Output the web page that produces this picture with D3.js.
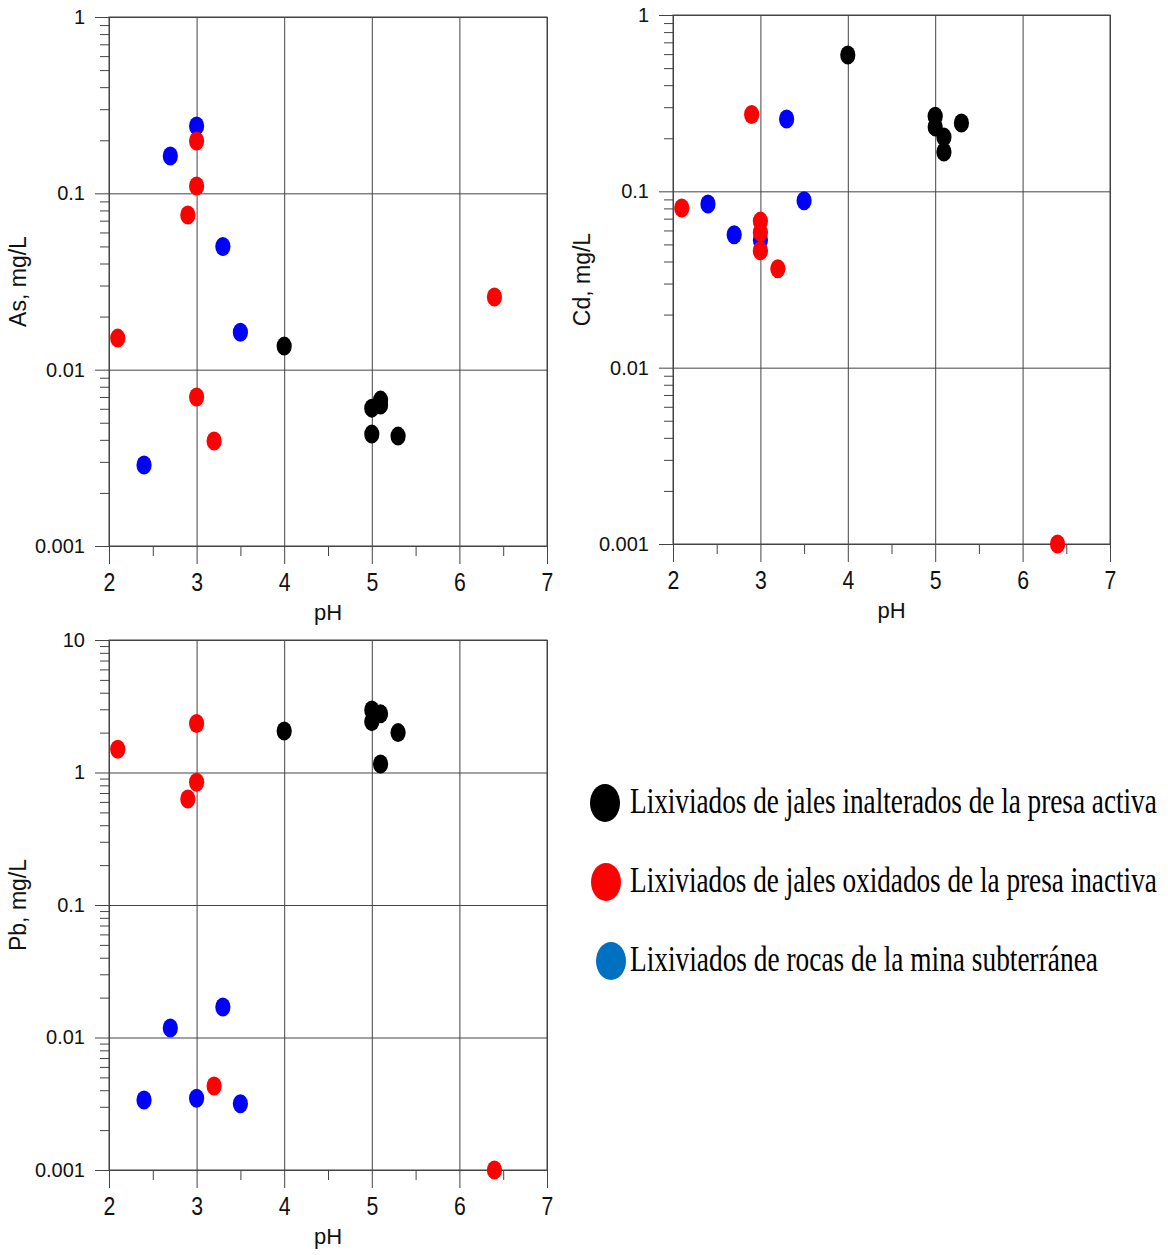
<!DOCTYPE html>
<html>
<head>
<meta charset="utf-8">
<script src="https://cdn.jsdelivr.net/npm/d3@7"></script>
<style>
  body { margin: 0; background: #fff; }
  svg { display: block; font-family: "Liberation Sans", Arial, sans-serif; }
</style>
</head>
<body>
<svg id="chart" width="1168" height="1255"></svg>
<script>
// series names / colours
const seriesNames = [
  "Lixiviados de jales inalterados de la presa activa",
  "Lixiviados de jales oxidados de la presa inactiva",
  "Lixiviados de rocas de la mina subterránea"
];
const pointColors = ["#000000", "#ff0000", "#0000ff"];
const legendColors = ["#000000", "#ff0000", "#0070c0"];

const phTicks = [2, 3, 4, 5, 6, 7];

// As
const asActivaPH = [4.0, 5.0, 5.1, 5.1, 5.0, 5.3];
const asActivaVal = [0.0136, 0.00605, 0.00672, 0.0063, 0.00431, 0.0042];
const asInactivaPH = [3.0, 3.0, 2.9, 2.1, 6.4, 3.0, 3.2];
const asInactivaVal = [0.198, 0.110, 0.0753, 0.0151, 0.0258, 0.0070, 0.00394];
const asRocasPH = [2.7, 3.0, 3.3, 3.5, 2.4];
const asRocasVal = [0.163, 0.241, 0.050, 0.0163, 0.00288];

// Cd
const cdActivaPH = [4.0, 5.0, 5.0, 5.1, 5.1, 5.3];
const cdActivaVal = [0.593, 0.267, 0.232, 0.203, 0.167, 0.244];
const cdInactivaPH = [2.9, 2.1, 3.0, 3.0, 3.0, 3.2, 6.4];
const cdInactivaVal = [0.273, 0.0804, 0.0678, 0.0585, 0.046, 0.0364, 0.001];
const cdRocasPH = [3.3, 2.4, 2.7, 3.0, 3.5];
const cdRocasVal = [0.257, 0.0847, 0.0567, 0.053, 0.0885];

// Pb
const pbActivaPH = [4.0, 5.0, 5.1, 5.0, 5.3, 5.1];
const pbActivaVal = [2.06, 2.96, 2.77, 2.42, 2.0, 1.16];
const pbInactivaPH = [2.1, 3.0, 3.0, 2.9, 3.2, 6.4];
const pbInactivaVal = [1.50, 2.34, 0.843, 0.631, 0.0043, 0.001];
const pbRocasPH = [2.4, 2.7, 3.3, 3.0, 3.5];
const pbRocasVal = [0.00337, 0.0118, 0.0170, 0.00348, 0.00316];

const svg = d3.select("#chart");

function zip(ph, val) {
  return ph.map((p, i) => [p, val[i]]);
}

function drawPanel(p) {
  const x = d3.scaleLinear().domain([2, 7]).range([p.left, p.right]);
  const y = d3.scaleLog().domain(p.yDomain).range([p.bottom, p.top]);
  const w = p.right - p.left, h = p.bottom - p.top;
  const g = svg.append("g");

  const decades = y.ticks().filter(v => Math.abs(Math.log10(v) - Math.round(Math.log10(v))) < 1e-9);
  const minors = y.ticks().filter(v => decades.indexOf(v) < 0);

  // vertical grid + major x ticks + labels
  const xg = g.append("g")
    .attr("transform", `translate(0,${p.top})`)
    .call(d3.axisBottom(x).tickValues(phTicks).tickSize(h + 18).tickPadding(9).tickFormat(d3.format("d")));
  xg.select(".domain").remove();
  xg.selectAll("line").attr("stroke", "#444");
  xg.selectAll("text")
    .attr("fill", "#111")
    .style("font-size", "25px")
    .attr("transform", "scale(0.85,1)");

  // minor x ticks
  const xm = g.append("g")
    .attr("transform", `translate(0,${p.bottom})`)
    .call(d3.axisBottom(x).tickValues(d3.range(2.5, 7, 1)).tickSize(10).tickFormat(""));
  xm.select(".domain").remove();
  xm.selectAll("line").attr("stroke", "#444");

  // horizontal grid at decades + labels
  const yg = g.append("g")
    .attr("transform", `translate(${p.right},0)`)
    .call(d3.axisLeft(y).tickValues(decades).tickSize(w + 14).tickPadding(10)
      .tickFormat(d => d >= 1 ? d3.format("d")(d) : String(+d.toPrecision(1))));
  yg.select(".domain").remove();
  yg.selectAll("line").attr("stroke", "#444");
  yg.selectAll("text")
    .attr("fill", "#111")
    .style("font-size", "20px");

  // minor y ticks
  const ym = g.append("g")
    .attr("transform", `translate(${p.left},0)`)
    .call(d3.axisLeft(y).tickValues(minors).tickSize(9).tickFormat(""));
  ym.select(".domain").remove();
  ym.selectAll("line").attr("stroke", "#444");

  // frame
  g.append("rect")
    .attr("x", p.left).attr("y", p.top)
    .attr("width", w).attr("height", h)
    .attr("fill", "none").attr("stroke", "#444");

  // axis titles
  g.append("text")
    .attr("x", (p.left + p.right) / 2).attr("y", p.bottom + 74)
    .attr("text-anchor", "middle")
    .style("font-size", "22px").attr("fill", "#111")
    .text("pH");
  g.append("text")
    .attr("transform", `translate(${p.left - 83},${(p.top + p.bottom) / 2}) rotate(-90)`)
    .attr("text-anchor", "middle")
    .style("font-size", "23px").attr("fill", "#111")
    .text(p.title);

  // points: blue first, then red, then black
  const order = [2, 1, 0];
  order.forEach(k => {
    g.append("g").selectAll("ellipse")
      .data(p.series[k])
      .join("ellipse")
      .attr("cx", d => x(d[0]))
      .attr("cy", d => y(d[1]))
      .attr("rx", 7.6)
      .attr("ry", 9.5)
      .attr("fill", pointColors[k]);
  });
}

drawPanel({
  left: 109, right: 547, top: 17, bottom: 546, yDomain: [0.001, 1], title: "As, mg/L",
  series: [zip(asActivaPH, asActivaVal), zip(asInactivaPH, asInactivaVal), zip(asRocasPH, asRocasVal)]
});
drawPanel({
  left: 673, right: 1110, top: 15, bottom: 544, yDomain: [0.001, 1], title: "Cd, mg/L",
  series: [zip(cdActivaPH, cdActivaVal), zip(cdInactivaPH, cdInactivaVal), zip(cdRocasPH, cdRocasVal)]
});
drawPanel({
  left: 109, right: 547, top: 640, bottom: 1170, yDomain: [0.001, 10], title: "Pb, mg/L",
  series: [zip(pbActivaPH, pbActivaVal), zip(pbInactivaPH, pbInactivaVal), zip(pbRocasPH, pbRocasVal)]
});

// legend (text squeezed horizontally like the original)
const legendY = [803, 882, 961];
const legendMarkX = [605, 606, 611];
const legendTextW = [527, 527, 468];
const lg = svg.append("g");
seriesNames.forEach((name, i) => {
  lg.append("ellipse")
    .attr("cx", legendMarkX[i]).attr("cy", legendY[i])
    .attr("rx", 15).attr("ry", 19)
    .attr("fill", legendColors[i]);
  const t = lg.append("text")
    .style("font-family", "'Liberation Serif', 'Times New Roman', serif")
    .style("font-size", "36px")
    .attr("fill", "#000")
    .text(name);
  const natural = t.node().getComputedTextLength();
  t.attr("transform", `translate(630,${legendY[i] + 10}) scale(${legendTextW[i] / natural},1)`);
});
</script>
</body>
</html>
